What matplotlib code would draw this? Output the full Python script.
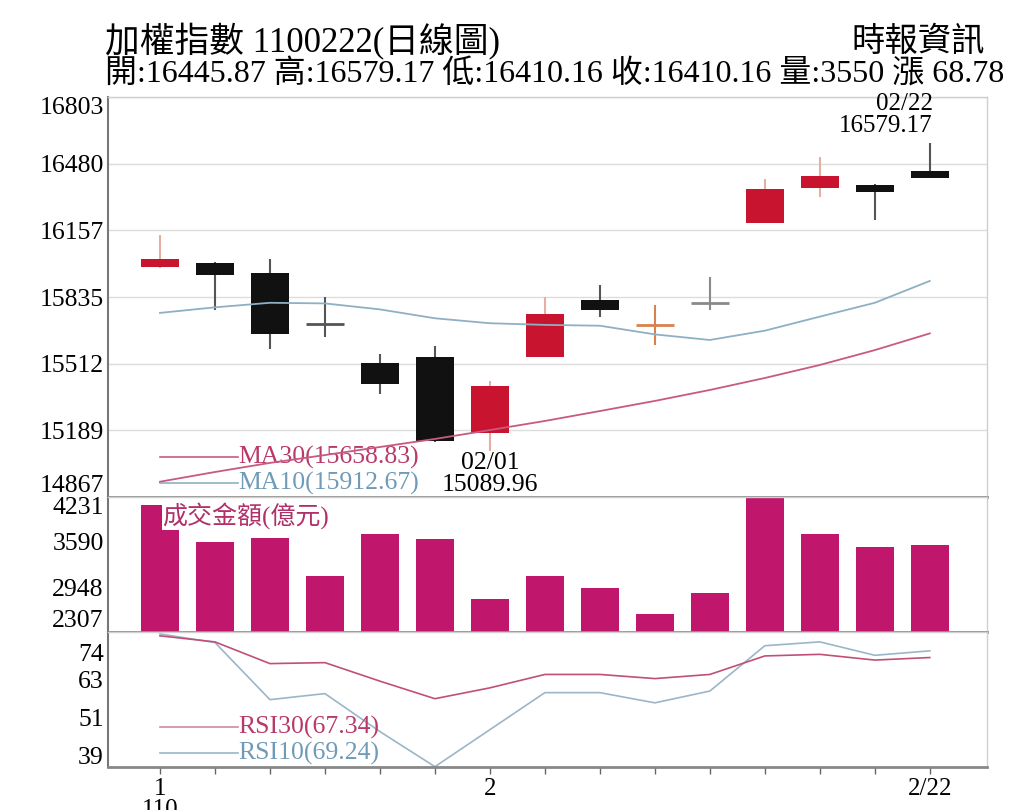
import matplotlib
matplotlib.use("Agg")
import matplotlib.pyplot as plt

# fonts: serif for digits, CJK fallback for the Chinese text
FONT = ['Liberation Serif', 'Noto Sans CJK TC', 'DejaVu Sans']
plt.rcParams['font.family'] = FONT

# daily candles 110/01/22 .. 110/02/22
dates = ['01/22', '01/25', '01/26', '01/27', '01/28', '01/29', '02/01', '02/02',
         '02/03', '02/04', '02/05', '02/17', '02/18', '02/19', '02/22']
opens = [15982, 16001, 15953, 15704, 15517, 15543, 15175, 15546,
         15820, 15699, 15805, 16192, 16362, 16376, 16445.87]
closes = [16017, 15941, 15656, 15704, 15414, 15140, 15406, 15753,
          15772, 15699, 15805, 16356, 16421, 16341.38, 16410.16]
highs = [16135, 16005, 16017, 15834, 15559, 15598, 15430, 15837,
         15893, 15796, 15934, 16405, 16514, 16380, 16579.17]
lows = [15975, 15772, 15582, 15640, 15366, 15135, 15089.96, 15546,
        15740, 15603, 15772, 16192, 16318, 16208, 16410.16]

ma10 = [15758, 15785, 15807, 15804, 15775, 15732, 15708, 15700,
        15696, 15654, 15627, 15672, 15740, 15807, 15912.67]
ma30 = [14941, 14988, 15032, 15070, 15109, 15148, 15191, 15235,
        15283, 15332, 15385, 15443, 15506, 15578, 15658.83]

# turnover (億元)
volume = [4117, 3586, 3652, 3110, 3699, 3632, 2777, 3110,
          2930, 2559, 2867, 4300, 3699, 3523, 3550]

rsi30 = [76.6, 74.7, 67.9, 68.2, 62.4, 56.9, 60.3, 64.5,
         64.5, 63.2, 64.5, 70.3, 70.8, 69.0, 69.8]
rsi10 = [77.2, 74.5, 56.6, 58.5, 46.6, 35.6, 47.2, 58.8,
         58.8, 55.6, 59.3, 73.5, 74.7, 70.5, 71.9]

price_ticks = [14867, 15189, 15512, 15835, 16157, 16480, 16803]
vol_ticks = [2307, 2948, 3590, 4231]
rsi_ticks = [39, 51, 63, 74]

RED = '#c8142e'
BLACK = '#111111'
MAGENTA = '#c0166c'
PINK = '#c85a82'
BLUE = '#8eb0c4'
# colour of the doji crosses
doji_col = {3: '#555555', 9: '#d9804f', 10: '#8a8a8a'}

fig = plt.figure(figsize=(10.24, 8.1), dpi=100)
L, W = 108 / 1024, 879 / 1024
ax = fig.add_axes([L, 1 - 497 / 810, W, 400 / 810])
axv = fig.add_axes([L, 1 - 632 / 810, W, 135 / 810])
axr = fig.add_axes([L, 1 - 767 / 810, W, 135 / 810])

x = list(range(len(dates)))
for a in (ax, axv, axr):
    a.set_xlim(-0.945, 15.04)
    for s in ('top', 'right'):
        a.spines[s].set_color('#cfcfcf')
        a.spines[s].set_linewidth(1)
    a.spines['left'].set_color('#777777')
    a.spines['left'].set_linewidth(1.5)
    a.spines['bottom'].set_color('#888888')
    a.spines['bottom'].set_linewidth(2)
    a.tick_params(axis='y', length=0, labelsize=18.5, pad=3)

# ---- candles
ax.set_ylim(14867, 16803)
ax.set_yticks(price_ticks)
ax.grid(axis='y', color='#dddddd', lw=1)
ax.set_axisbelow(True)
for i in x:
    o, c, h, l = opens[i], closes[i], highs[i], lows[i]
    if c > o:
        col, wick = RED, '#e6b0a0'
    elif c < o:
        col, wick = BLACK, '#555555'
    else:
        col = wick = doji_col.get(i, '#777777')
    ax.vlines(i, l, h, color=wick, lw=1.5, zorder=2)
    if c == o:
        ax.hlines(o, i - 0.35, i + 0.35, color=col, lw=2, zorder=3)
    else:
        ax.bar(i, c - o, bottom=o, width=0.7, color=col, zorder=3)

ax.plot(x, ma10, color=BLUE, lw=1.3, zorder=4)
ax.plot(x, ma30, color=PINK, lw=1.3, zorder=4)

ax.plot([0, 1.42], [0.10, 0.10], color=PINK, lw=1.2, transform=ax.get_xaxis_transform())
ax.plot([0, 1.42], [0.035, 0.035], color=BLUE, lw=1.2, transform=ax.get_xaxis_transform())
ax.text(1.42, 0.10, 'MA30(%.2f)' % ma30[-1], color='#b83a68', fontsize=18.5,
        va='center', transform=ax.get_xaxis_transform())
ax.text(1.42, 0.035, 'MA10(%.2f)' % ma10[-1], color='#6f9ab8', fontsize=18.5,
        va='center', transform=ax.get_xaxis_transform())

hi_i = highs.index(max(highs))
lo_i = lows.index(min(lows))
ax.text(hi_i + 0.05, highs[hi_i] + 30, '%s\n%.2f' % (dates[hi_i], highs[hi_i]),
        ha='right', va='bottom', fontsize=18, linespacing=1.0, zorder=6)
ax.text(lo_i, lows[lo_i] - 5, '%s\n%.2f' % (dates[lo_i], lows[lo_i]),
        ha='center', va='top', fontsize=18.5, linespacing=1.0, zorder=6,
        clip_on=False)

# ---- turnover bars
axv.set_ylim(2307, 4231)
axv.set_yticks(vol_ticks)
axv.bar(x, volume, width=0.68, color=MAGENTA, zorder=2)
axv.text(0.062, 0.86, '成交金額(億元)', transform=axv.transAxes, color='#b0306a',
         fontsize=18, va='center', zorder=5,
         bbox=dict(facecolor='white', edgecolor='none', pad=0.5))

# ---- RSI
axr.set_ylim(35.5, 77.8)
axr.set_yticks(rsi_ticks)
axr.plot(x, rsi10, color='#9bb6c8', lw=1.2)
axr.plot(x, rsi30, color='#c05078', lw=1.2)
axr.plot([0, 1.42], [0.296, 0.296], color='#d08aa4', lw=1.2, transform=axr.get_xaxis_transform())
axr.plot([0, 1.42], [0.104, 0.104], color='#9bb6c8', lw=1.2, transform=axr.get_xaxis_transform())
axr.text(1.42, 0.296, 'RSI30(%.2f)' % 67.34, color='#b83a68', fontsize=18.5,
         va='center', transform=axr.get_xaxis_transform())
axr.text(1.42, 0.104, 'RSI10(%.2f)' % 69.24, color='#6f9ab8', fontsize=18.5,
         va='center', transform=axr.get_xaxis_transform())

# edge labels sit inside the panel
for a in (ax, axv):
    labs = a.get_yticklabels()
    labs[0].set_va('bottom')
    labs[-1].set_va('top')
rl = axr.get_yticklabels()
rl[-1].set_va('top')

# x axis
for a in (ax, axv):
    a.set_xticks([])
axr.set_xticks(x)
xl = [''] * len(x)
xl[0] = '1\n110'
xl[6] = '2'
xl[-1] = '2/22'
axr.set_xticklabels(xl, fontsize=18, linespacing=0.95, va='top')
axr.tick_params(axis='x', length=5, width=1, color='#666666', pad=3)

# ---- header
fig.text(105 / 1024, 1 - 42 / 810, '加權指數 1100222(日線圖)', fontsize=25, va='center')
fig.text(985 / 1024, 1 - 42 / 810, '時報資訊', fontsize=24, va='center', ha='right')
fig.text(105 / 1024, 1 - 75 / 810,
         '開:%.2f 高:%.2f 低:%.2f 收:%.2f 量:%d 漲 %.2f'
         % (opens[-1], highs[-1], lows[-1], closes[-1], volume[-1], closes[-1] - closes[-2]),
         fontsize=23, va='center')

fig.savefig('out.png', dpi=100)
